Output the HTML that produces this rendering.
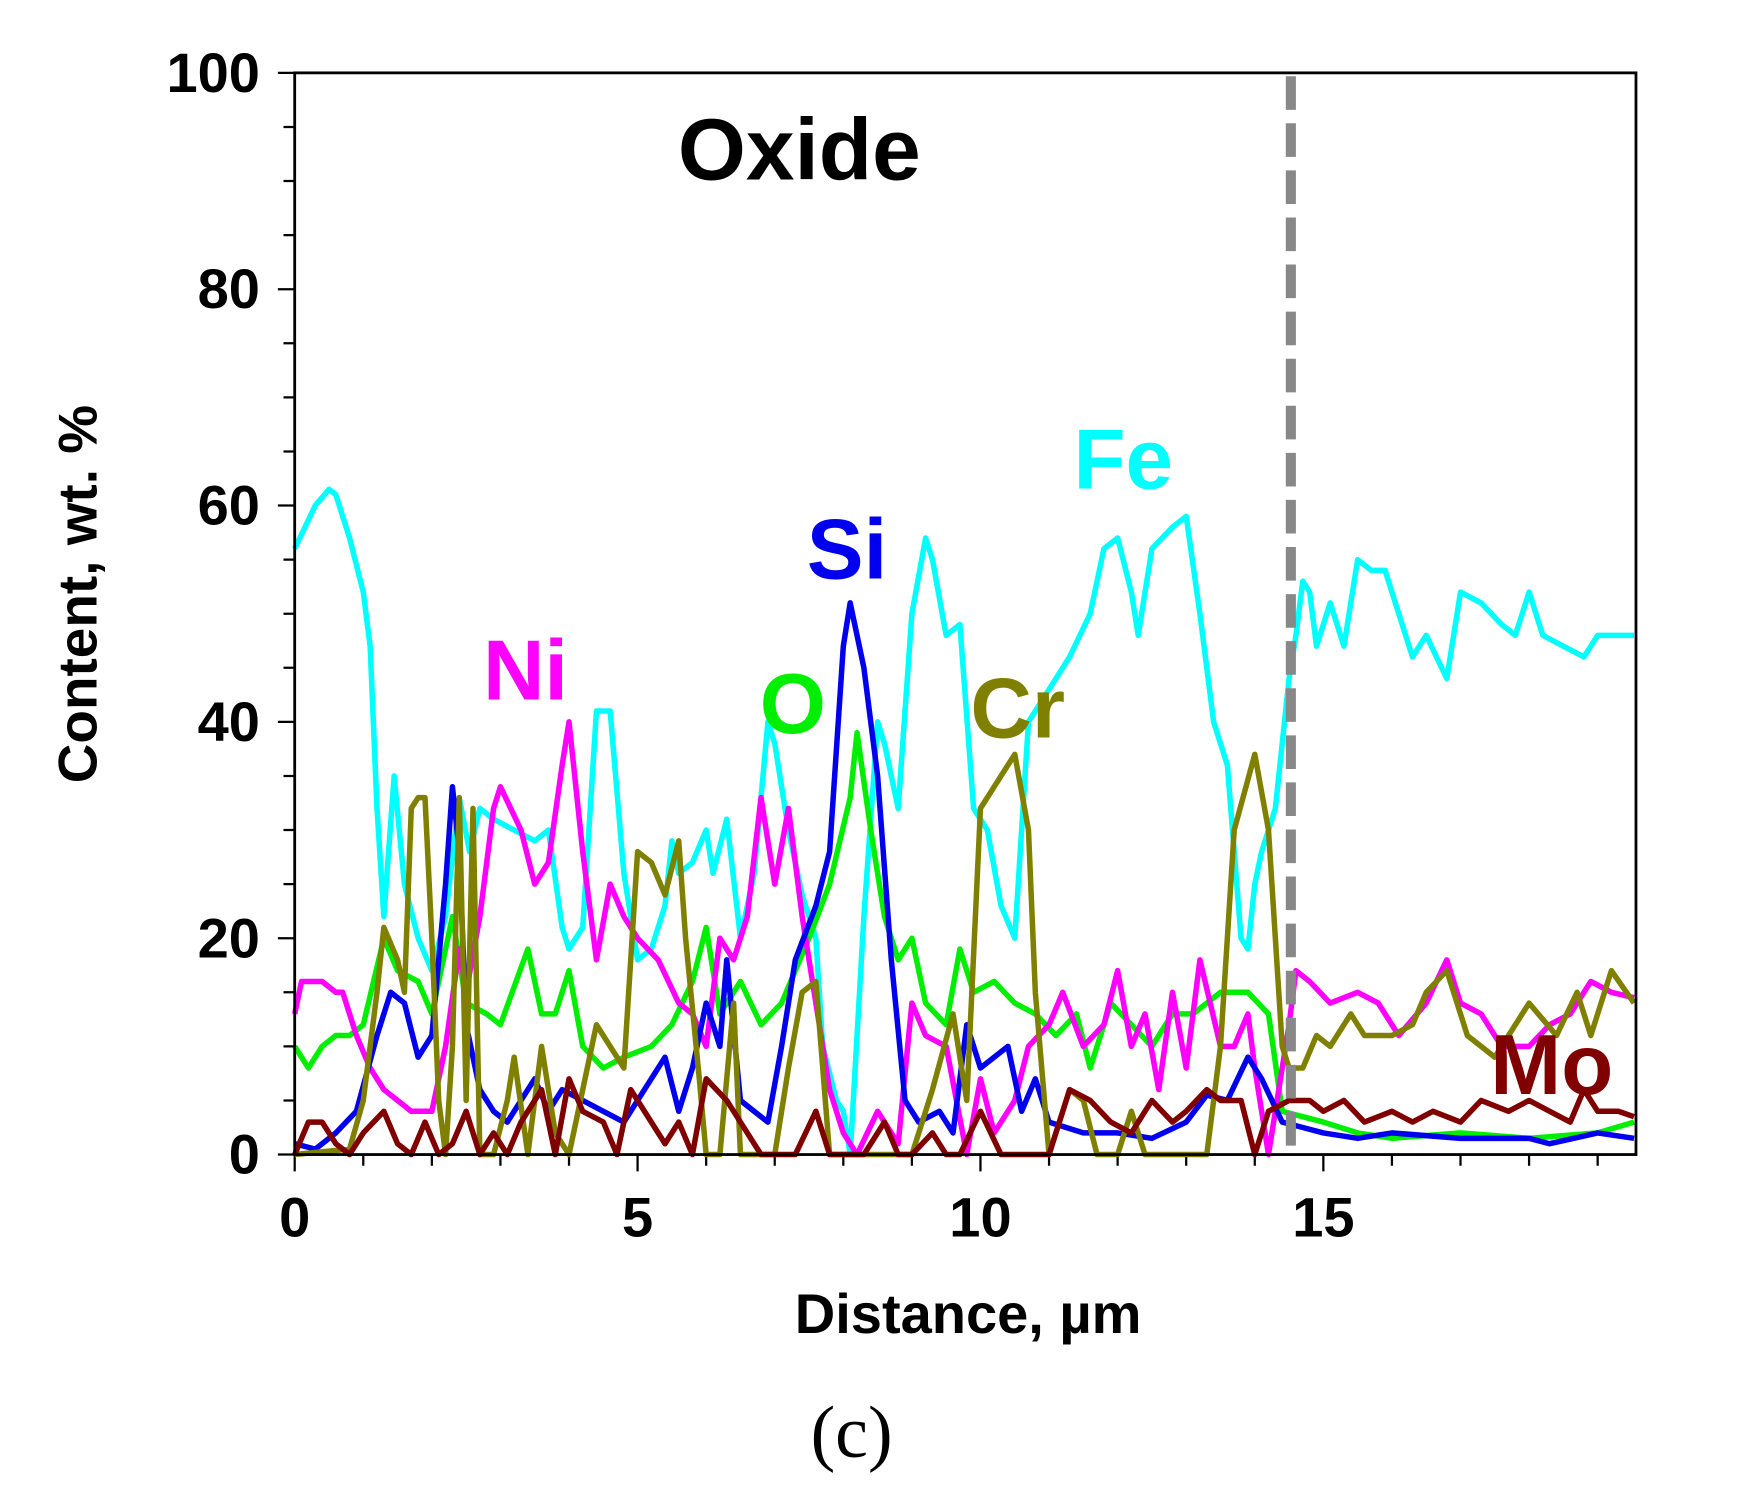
<!DOCTYPE html>
<html><head><style>html,body{margin:0;padding:0;background:#fff;}svg{display:block}</style></head>
<body>
<svg width="1757" height="1511" viewBox="0 0 1568 1348" preserveAspectRatio="none" xmlns="http://www.w3.org/2000/svg" font-family="Liberation Sans, Arial, sans-serif">
<rect width="1568" height="1348" fill="#fff"/>
<g stroke="#000" stroke-width="2">
<path d="M248,65H263M253,113.25H263M253,161.5H263M253,209.75H263M248,258H263M253,306.25H263M253,354.5H263M253,402.75H263M248,451H263M253,499.25H263M253,547.5H263M253,595.75H263M248,644H263M253,692.25H263M253,740.5H263M253,788.75H263M248,837H263M253,885.25H263M253,933.5H263M253,981.75H263M248,1030H263"/>
<path d="M263,1030V1045M324.2,1030V1040M385.4,1030V1040M446.6,1030V1040M507.8,1030V1040M569,1030V1045M630.2,1030V1040M691.4,1030V1040M752.6,1030V1040M813.8,1030V1040M875,1030V1045M936.2,1030V1040M997.4,1030V1040M1058.6,1030V1040M1119.8,1030V1040M1181,1030V1045M1242.2,1030V1040M1303.4,1030V1040M1364.6,1030V1040M1425.8,1030V1040"/>
</g>
<g fill="none" stroke-width="5.5" stroke-linejoin="round" transform="translate(263,1030) scale(61.2,-9.65)">
<path vector-effect="non-scaling-stroke" stroke="#00ffff" d="M0,56 L.3,60 .5,61.5 .6,61 .8,57 1,52 1.1,47 1.2,32 1.3,22 1.45,35 1.6,25 1.8,20 2,17 2.2,22 2.4,33 2.55,28 2.7,32 2.9,31 3.2,30 3.5,29 3.7,30 3.9,21 4,19 4.2,21 4.4,41 4.6,41 4.8,26 5,18 5.2,19 5.4,23 5.5,29 5.6,26 5.8,27 6,30 6.1,26 6.3,31 6.5,20 6.7,26 6.9,40 7,38 7.2,30 7.4,24 7.6,20 7.7,10 7.9,5 8,4 8.1,0 8.3,22 8.5,40 8.6,38 8.8,32 9,50 9.2,57 9.3,55 9.5,48 9.7,49 9.9,32 10.1,30 10.3,23 10.5,20 10.7,40 11,43 11.3,46 11.6,50 11.8,56 12,57 12.2,52 12.3,48 12.5,56 12.8,58 13,59 13.2,50 13.4,40 13.6,36 13.8,20 13.9,19 14,25 14.1,28 14.3,32 14.5,44 14.6,48 14.7,53 14.8,52 14.9,47 15.1,51 15.3,47 15.5,55 15.7,54 15.9,54 16.1,50 16.3,46 16.5,48 16.8,44 17,52 17.3,51 17.6,49 17.8,48 18,52 18.2,48 18.5,47 18.8,46 19,48 19.53,48"/>
<path vector-effect="non-scaling-stroke" stroke="#00ee00" d="M0,10 L.2,8 .4,10 .6,11 .8,11 1,12 1.3,20 1.5,17 1.8,16 2,13 2.3,22 2.5,14 2.8,13 3,12 3.4,19 3.6,13 3.8,13 4,17 4.2,10 4.5,8 4.8,9 5.2,10 5.5,12 5.8,16 6,21 6.2,13 6.5,16 6.8,12 7.1,14 7.5,20 7.8,25 8.1,33 8.2,39 8.4,30 8.6,22 8.8,18 9,20 9.2,14 9.5,12 9.7,19 9.9,15 10.2,16 10.5,14 10.8,13 11.1,11 11.4,13 11.6,8 11.9,14 12.2,12 12.5,10 12.8,13 13.1,13 13.5,15 13.9,15 14.2,13 14.4,4 14.7,3.5 15,3 15.5,2 16,1.5 17,2 18,1.5 19,2 19.53,3"/>
<path vector-effect="non-scaling-stroke" stroke="#ff00ff" d="M0,13 L.1,16 .4,16 .6,15 .7,15 .9,11 1.1,8 1.3,6 1.5,5 1.7,4 2,4 2.2,10 2.4,19 2.5,15 2.7,22 2.9,32 3,34 3.3,30 3.5,25 3.7,27 3.9,36 4,40 4.2,28 4.4,18 4.6,25 4.8,22 5,20 5.3,18 5.6,14 5.8,13 6,10 6.2,20 6.4,18 6.6,22 6.8,33 7,25 7.2,32 7.4,22 7.6,14 7.8,6 8,2 8.2,0 8.5,4 8.8,1 9,14 9.2,11 9.5,10 9.8,0 10,7 10.2,2 10.5,5 10.7,10 11,12 11.2,15 11.5,10 11.8,12 12,17 12.2,10 12.4,13 12.6,6 12.8,15 13,8 13.2,18 13.5,10 13.7,10 13.9,13 14,8 14.2,0 14.5,12 14.6,17 14.8,16 15.1,14 15.5,15 15.8,14 16.1,11 16.5,14 16.8,18 17,14 17.3,13 17.6,10 18,10 18.3,12 18.6,13 18.9,16 19.2,15 19.53,14.5"/>
<path vector-effect="non-scaling-stroke" stroke="#0000ee" d="M0,1 L.3,.5 .6,2 .9,4 1.2,11 1.4,15 1.6,14 1.8,9 2,11 2.2,25 2.3,34 2.4,28 2.5,12 2.7,6 2.9,4 3.1,3 3.3,5 3.5,7 3.7,4 3.9,6 4.2,5 4.5,4 4.8,3 5,5 5.2,7 5.4,9 5.6,4 5.8,8 6,14 6.2,10 6.3,18 6.5,5 6.7,4 6.9,3 7.1,10 7.3,18 7.6,23 7.8,28 8,47 8.1,51 8.3,45 8.5,35 8.7,18 8.9,5 9.1,3 9.4,4 9.6,2 9.8,12 10,8 10.2,9 10.4,10 10.6,4 10.8,7 11,3 11.5,2 12,2 12.5,1.5 13,3 13.3,5.5 13.6,5 13.9,9 14.1,7 14.4,3 14.7,2.5 15,2 15.5,1.5 16,2 17,1.5 18,1.5 18.3,1 19,2 19.53,1.5"/>
<path vector-effect="non-scaling-stroke" stroke="#808000" d="M0,0 L.8,.5 1,5 1.2,15 1.3,21 1.5,18 1.6,15 1.7,32 1.8,33 1.9,33 2,20 2.1,5 2.2,0 2.3,10 2.4,33 2.5,5 2.6,32 2.7,0 2.9,0 3.1,5 3.2,9 3.4,0 3.6,10 3.8,2 4,0 4.2,6 4.4,12 4.6,10 4.8,8 5,28 5.2,27 5.4,24 5.6,29 5.7,20 5.9,7 6,0 6.2,0 6.4,14 6.5,0 6.7,0 7,0 7.2,8 7.4,15 7.6,16 7.8,0 8,0 8.5,0 9,0 9.3,6 9.6,13 9.8,5 10,32 10.3,35 10.5,37 10.7,30 10.8,15 11,0 11.3,6 11.5,5 11.7,0 12,0 12.2,4 12.4,0 12.7,0 13,0 13.3,0 13.5,10 13.7,30 14,37 14.2,30 14.3,20 14.4,10 14.5,8 14.7,8 14.9,11 15.1,10 15.4,13 15.6,11 16,11 16.3,12 16.5,15 16.8,17 17.1,11 17.5,9 18,14 18.4,11 18.7,15 18.9,11 19.2,17 19.53,14"/>
<path vector-effect="non-scaling-stroke" stroke="#800000" d="M0,0 L.2,3 .4,3 .6,1 .8,0 1,2 1.3,4 1.5,1 1.7,0 1.9,3 2.1,0 2.3,1 2.5,4 2.7,0 2.9,2 3.1,0 3.3,3 3.6,6 3.8,0 4,7 4.2,4 4.5,3 4.7,0 4.9,6 5.1,4 5.4,1 5.6,3 5.8,0 6,7 6.3,5 6.6,2 6.8,0 7,0 7.3,0 7.6,4 7.8,0 8,0 8.3,0 8.6,3 8.8,0 9,0 9.3,2 9.5,0 9.7,0 10,4 10.3,0 10.6,0 11,0 11.3,6 11.6,5 11.9,3 12.2,2 12.5,5 12.8,3 13,4 13.3,6 13.5,5 13.8,5 14,0 14.2,4 14.5,5 14.8,5 15,4 15.3,5 15.6,3 16,4 16.3,3 16.6,4 17,3 17.3,5 17.7,4 18,5 18.3,4 18.6,3 18.8,6 19,4 19.3,4 19.53,3.5"/>
</g>
<line x1="1152" y1="68" x2="1152" y2="1030" stroke="#888" stroke-width="9" stroke-dasharray="30,12"/>
<rect x="263" y="65" width="1197" height="965" fill="none" stroke="#000" stroke-width="2.5"/>
<g font-weight="bold" font-size="50" text-anchor="end" fill="#000">
<text x="232" y="82">100</text><text x="232" y="275">80</text><text x="232" y="468">60</text>
<text x="232" y="661">40</text><text x="232" y="854">20</text><text x="232" y="1047">0</text>
</g>
<g font-weight="bold" font-size="50" text-anchor="middle" fill="#000">
<text x="263" y="1103">0</text><text x="569" y="1103">5</text><text x="875" y="1103">10</text><text x="1181" y="1103">15</text>
<text x="864" y="1189">Distance, µm</text>
<text transform="translate(86,530) rotate(-90)" font-size="49">Content, wt. %</text>
</g>
<text x="605" y="160" font-size="78" font-weight="bold" fill="#000">Oxide</text>
<text x="760" y="1300" font-size="66" text-anchor="middle" font-family="Liberation Serif, serif">(c)</text>
<g font-weight="bold" font-size="76">
<text x="958" y="436" fill="#00ffff">Fe</text>
<text x="720" y="516" fill="#0000ee">Si</text>
<text x="431" y="624" fill="#ff00ff">Ni</text>
<text x="678" y="654" fill="#00ee00">O</text>
<text x="866" y="658" fill="#808000">Cr</text>
<text x="1330" y="976" fill="#800000">Mo</text>
</g>
</svg>
</body></html>
